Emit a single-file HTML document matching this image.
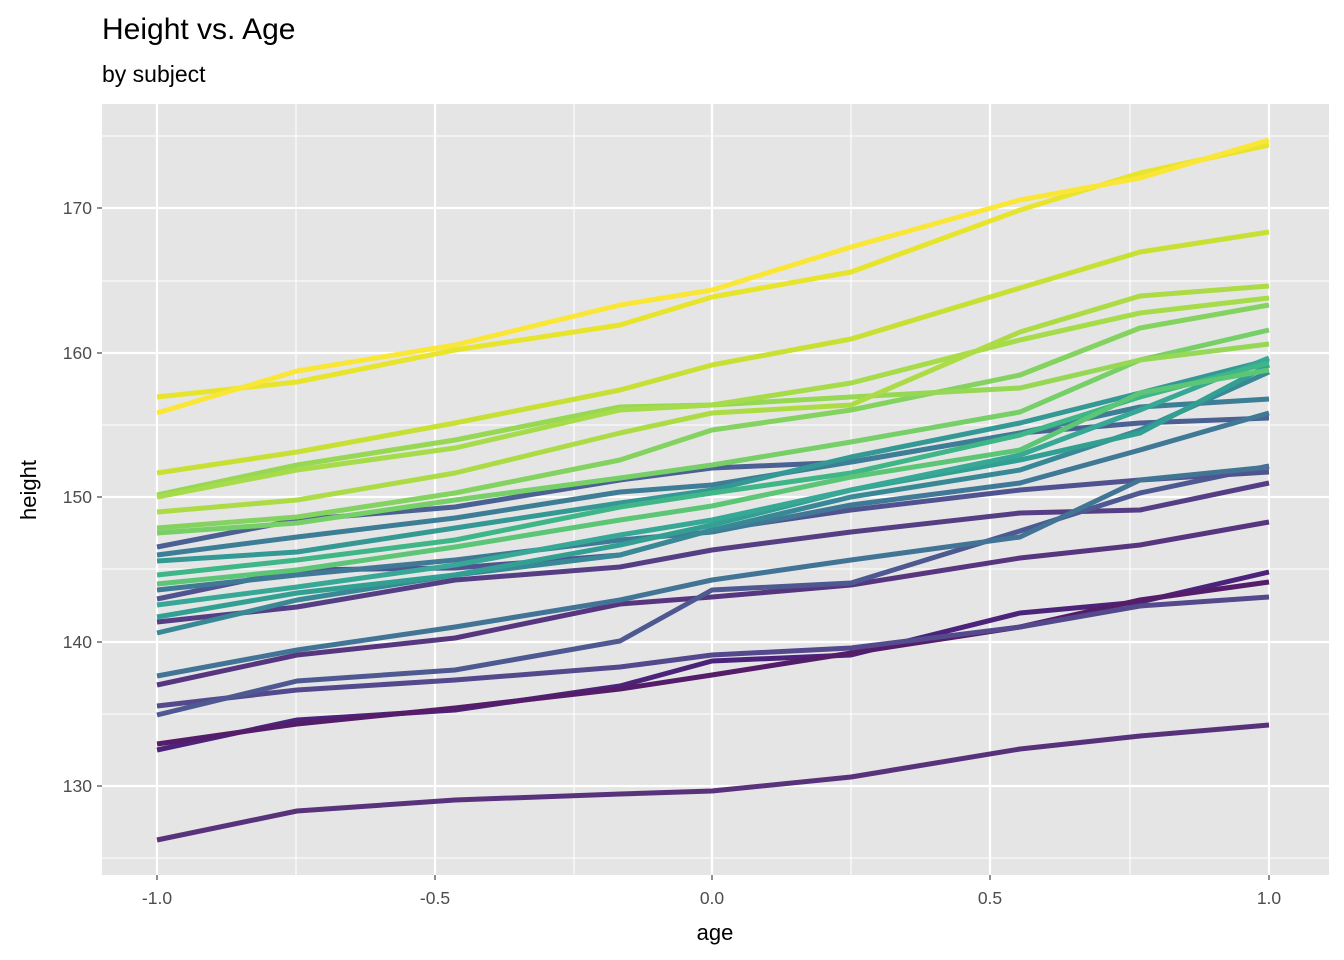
<!DOCTYPE html>
<html><head><meta charset="utf-8"><style>
html,body{margin:0;padding:0;background:#fff;}
svg{display:block;font-family:"Liberation Sans",sans-serif;}
</style></head><body>
<svg id="s" width="1344" height="960" xmlns="http://www.w3.org/2000/svg">
<rect width="1344" height="960" fill="#fff"/>
<text x="102" y="39" font-size="30" fill="#000">Height vs. Age</text>
<text x="102" y="82" font-size="23" fill="#000">by subject</text>
<rect x="102" y="104" width="1227" height="771" fill="#e5e5e5"/>
<g stroke="#fff" stroke-width="1.1">
<line x1="102" x2="1329" y1="858" y2="858"/><line x1="102" x2="1329" y1="714" y2="714"/><line x1="102" x2="1329" y1="569" y2="569"/><line x1="102" x2="1329" y1="425" y2="425"/><line x1="102" x2="1329" y1="281" y2="281"/><line x1="102" x2="1329" y1="136" y2="136"/>
<line y1="104" y2="875" x1="296" x2="296"/><line y1="104" y2="875" x1="574" x2="574"/><line y1="104" y2="875" x1="851" x2="851"/><line y1="104" y2="875" x1="1130" x2="1130"/>
</g>
<g stroke="#fff" stroke-width="2.2">
<line x1="102" x2="1329" y1="786" y2="786"/><line x1="102" x2="1329" y1="642" y2="642"/><line x1="102" x2="1329" y1="497" y2="497"/><line x1="102" x2="1329" y1="353" y2="353"/><line x1="102" x2="1329" y1="208" y2="208"/>
<line y1="104" y2="875" x1="157" x2="157"/><line y1="104" y2="875" x1="435" x2="435"/><line y1="104" y2="875" x1="712" x2="712"/><line y1="104" y2="875" x1="990" x2="990"/><line y1="104" y2="875" x1="1269" x2="1269"/>
</g>
<g id="lines" fill="none" stroke-width="5" stroke-linejoin="round" opacity="0.9"></g>
<g stroke="#333" stroke-width="1.1">
<line x1="97" x2="102" y1="786" y2="786"/><line x1="97" x2="102" y1="642" y2="642"/><line x1="97" x2="102" y1="497" y2="497"/><line x1="97" x2="102" y1="353" y2="353"/><line x1="97" x2="102" y1="208" y2="208"/>
<line y1="875" y2="880" x1="157" x2="157"/><line y1="875" y2="880" x1="435" x2="435"/><line y1="875" y2="880" x1="712" x2="712"/><line y1="875" y2="880" x1="990" x2="990"/><line y1="875" y2="880" x1="1269" x2="1269"/>
</g>
<g font-size="17.5" fill="#4d4d4d" text-anchor="end">
<text x="92" y="792">130</text><text x="92" y="648">140</text><text x="92" y="503">150</text><text x="92" y="359">160</text><text x="92" y="214">170</text>
</g>
<g font-size="17.5" fill="#4d4d4d" text-anchor="middle">
<text x="157" y="904">-1.0</text><text x="435" y="904">-0.5</text><text x="712" y="904">0.0</text><text x="990" y="904">0.5</text><text x="1269" y="904">1.0</text>
</g>
<text x="715" y="940" font-size="22" text-anchor="middle" fill="#000">age</text>
<text transform="translate(36,490) rotate(-90)" font-size="22" text-anchor="middle" fill="#000">height</text>
</svg>
<script>
var X=[157,297,455,620,712,851,1020,1140,1269];
var L=[
["#fde725",[413,371,345,305,290,247,200,178,140]],
["#e8e419",[397,382,350,325,297,272,210,173,145]],
["#c5e021",[473,452,423,390,365,339,288,252,232]],
["#a8db34",[512,500,473,433,413,405,332,296,286]],
["#a0da39",[497,470,448,410,405,383,340,313,298]],
["#8ed645",[495,465,440,407,405,397,388,360,344]],
["#7ad151",[528,517,493,460,430,410,375,328,305]],
["#6ccd5a",[533,523,500,478,465,442,412,360,330]],
["#4ec36b",[584,570,547,520,506,477,450,393,370]],
["#2db27d",[575,560,540,507,493,473,435,397,363]],
["#25a18e",[605,587,565,535,520,490,455,410,358]],
["#21918c",[561,552,528,503,490,457,423,393,360]],
["#1f988b",[617,593,575,545,525,490,460,433,365]],
["#277f8e",[633,600,575,555,530,497,470,430,372]],
["#2c728e",[555,537,518,492,485,462,433,407,399]],
["#2e6e8e",[590,575,560,540,532,505,483,450,413]],
["#3b528b",[547,520,507,480,468,462,433,423,418]],
["#31688e",[676,650,627,600,580,560,537,480,467]],
["#414487",[599,570,568,555,530,510,490,480,472]],
["#3e4a89",[715,681,670,641,590,583,531,493,466]],
["#472d7b",[622,607,580,567,550,532,513,510,483]],
["#482475",[685,655,638,604,597,585,558,545,522]],
["#443983",[706,690,680,667,655,648,627,606,597]],
["#46085c",[744,724,708,689,675,653,627,600,582]],
["#3b0f70",[750,720,710,686,661,655,613,602,572]],
["#481f70",[840,811,800,794,791,777,749,736,725]]
];
var g=document.getElementById("lines"),h="";
L.slice().reverse().forEach(function(l){h+='<polyline stroke="'+l[0]+'" points="'+l[1].map(function(y,i){return X[i]+","+y}).join(" ")+'"/>';});
g.innerHTML=h;
</script>
</body></html>
